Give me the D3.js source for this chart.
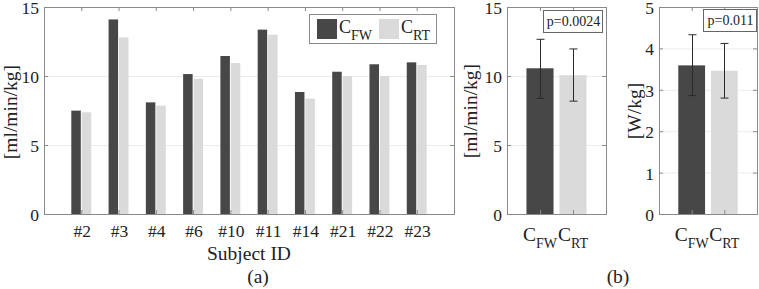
<!DOCTYPE html>
<html>
<head>
<meta charset="utf-8">
<script src="https://cdn.jsdelivr.net/npm/d3@7.9.0/dist/d3.min.js"></script>
<style>
  body { margin: 0; background: #fff; }
  svg { display: block; font-family: "Liberation Serif", "Times New Roman", serif; }
</style>
</head>
<body>
<svg id="chart" width="759" height="289"></svg>
<script>
// per-subject values, C_FW vs C_RT
const subjects = ["#2", "#3", "#4", "#6", "#10", "#11", "#14", "#21", "#22", "#23"];
const fwValues = [7.49, 14.1, 8.09, 10.14, 11.45, 13.36, 8.84, 10.31, 10.85, 10.99];
const rtValues = [7.37, 12.8, 7.85, 9.8, 10.94, 12.99, 8.36, 10.0, 10.0, 10.8];

// group means with error bars
const condLabels = ["FW", "RT"];
const vo2Means = [10.56, 10.06];
const vo2Lower = [8.38, 8.18];
const vo2Upper = [12.66, 11.96];
const powMeans = [3.59, 3.46];
const powLower = [2.86, 2.80];
const powUpper = [4.33, 4.12];

const ticks15 = [0, 5, 10, 15];
const ticks5 = [0, 1, 2, 3, 4, 5];

const darkColor = "#474747";
const lightColor = "#dadada";
const axisColor = "#8a8a8a";
const gridColor = "#ececec";
const tickFont = "17.5px";
const labelFont = "19.5px";

const svg = d3.select("#chart");
const plotTop = 7, plotBottom = 214;

function frame(x, y, yTicks) {
  const [x0, x1] = x.range();
  const g = svg.append("g");
  // grid
  g.selectAll(".grid").data(yTicks.slice(1, -1)).enter().append("line")
    .attr("x1", x0).attr("x2", x1)
    .attr("y1", d => y(d) + 0.5).attr("y2", d => y(d) + 0.5)
    .attr("stroke", gridColor).attr("stroke-width", 1);
  return g;
}

function box(x, y, yTicks, xTicks) {
  const [x0, x1] = x.range();
  const g = svg.append("g");
  g.append("rect")
    .attr("x", x0 + 0.5).attr("y", plotTop + 0.5)
    .attr("width", x1 - x0).attr("height", plotBottom - plotTop)
    .attr("fill", "none").attr("stroke", axisColor);
  // inward ticks on all sides
  yTicks.forEach(t => {
    g.append("line").attr("x1", x0).attr("x2", x0 + 4)
      .attr("y1", y(t) + 0.5).attr("y2", y(t) + 0.5).attr("stroke", axisColor);
    g.append("line").attr("x1", x1 - 4).attr("x2", x1)
      .attr("y1", y(t) + 0.5).attr("y2", y(t) + 0.5).attr("stroke", axisColor);
    g.append("text")
      .attr("x", x0 - 5).attr("y", y(t) + 7)
      .attr("text-anchor", "end").attr("font-size", tickFont).attr("fill", "#222")
      .text(t);
  });
  xTicks.forEach(t => {
    g.append("line").attr("x1", x(t) + 0.5).attr("x2", x(t) + 0.5)
      .attr("y1", plotTop).attr("y2", plotTop + 4).attr("stroke", axisColor);
    g.append("line").attr("x1", x(t) + 0.5).attr("x2", x(t) + 0.5)
      .attr("y1", plotBottom - 4).attr("y2", plotBottom).attr("stroke", axisColor);
  });
  return g;
}

function yLabel(cx, cy, txt) {
  svg.append("text")
    .attr("transform", `translate(${cx},${cy}) rotate(-90)`)
    .attr("text-anchor", "middle").attr("font-size", labelFont).attr("fill", "#222")
    .text(txt);
}

function subLabel(sel, sub) {
  sel.append("tspan").text("C");
  sel.append("tspan").attr("font-size", "14px").attr("dy", 7).text(sub);
}

// ---- (a) per subject ----
const xA = d3.scaleLinear().domain([0, 11]).range([44, 454]);
const yA = d3.scaleLinear().domain([0, 15]).range([plotBottom, plotTop]);
const posA = subjects.map((s, i) => i + 1);
const barW = 0.255, off = 0.14;

frame(xA, yA, ticks15);
svg.append("g").selectAll("rect").data(fwValues).enter().append("rect")
  .attr("x", (d, i) => xA(posA[i] - off - barW / 2))
  .attr("width", xA(barW) - xA(0))
  .attr("y", d => yA(d)).attr("height", d => yA(0) - yA(d))
  .attr("fill", darkColor);
svg.append("g").selectAll("rect").data(rtValues).enter().append("rect")
  .attr("x", (d, i) => xA(posA[i] + off - barW / 2))
  .attr("width", xA(barW) - xA(0))
  .attr("y", d => yA(d)).attr("height", d => yA(0) - yA(d))
  .attr("fill", lightColor);
box(xA, yA, ticks15, posA);
svg.append("g").selectAll("text").data(subjects).enter().append("text")
  .attr("x", (d, i) => xA(posA[i]) + 1).attr("y", 237)
  .attr("text-anchor", "middle").attr("font-size", tickFont).attr("fill", "#222")
  .text(d => d);
svg.append("text").attr("x", xA(5.5)).attr("y", 260)
  .attr("text-anchor", "middle").attr("font-size", labelFont).attr("fill", "#222")
  .text("Subject ID");
yLabel(17, 112, "[ml/min/kg]");

// legend
const leg = svg.append("g");
leg.append("rect").attr("x", 309.5).attr("y", 14.5).attr("width", 127).attr("height", 29)
  .attr("fill", "#fff").attr("stroke", axisColor);
[[darkColor, "FW", 317], [lightColor, "RT", 379]].forEach(([c, s, lx]) => {
  leg.append("rect").attr("x", lx).attr("y", 19).attr("width", 20).attr("height", 20).attr("fill", c);
  const t = leg.append("text").attr("x", lx + 22).attr("y", 33)
    .attr("font-size", "18px").attr("fill", "#222");
  subLabel(t, s);
});

svg.append("text").attr("x", 258).attr("y", 283)
  .attr("text-anchor", "middle").attr("font-size", labelFont).attr("fill", "#222")
  .text("(a)");

// ---- (b) summary panels ----
function summary(range, yMax, yTicks, means, lower, upper, label, labelX, pText, pBox) {
  const x = d3.scaleLinear().domain([0, 3]).range(range);
  const y = d3.scaleLinear().domain([0, yMax]).range([plotBottom, plotTop]);
  const pos = [1, 2];
  frame(x, y, yTicks);
  svg.append("g").selectAll("rect").data(means).enter().append("rect")
    .attr("x", (d, i) => x(pos[i] - 0.41))
    .attr("width", x(0.82) - x(0))
    .attr("y", d => y(d)).attr("height", d => y(0) - y(d))
    .attr("fill", (d, i) => i === 0 ? darkColor : lightColor);
  const eb = svg.append("g").attr("stroke", "#2a2a2a").attr("stroke-width", 1);
  pos.forEach((p, i) => {
    const cx = Math.round(x(p)) + 0.5;
    eb.append("line").attr("x1", cx).attr("x2", cx).attr("y1", y(upper[i])).attr("y2", y(lower[i]));
    eb.append("line").attr("x1", cx - 4).attr("x2", cx + 4).attr("y1", y(upper[i])).attr("y2", y(upper[i]));
    eb.append("line").attr("x1", cx - 4).attr("x2", cx + 4).attr("y1", y(lower[i])).attr("y2", y(lower[i]));
  });
  box(x, y, yTicks, pos);
  pos.forEach((p, i) => {
    const t = svg.append("text").attr("x", x(p)).attr("y", 241)
      .attr("text-anchor", "middle").attr("font-size", labelFont).attr("fill", "#222");
    subLabel(t, condLabels[i]);
  });
  yLabel(labelX, 111, label);
  svg.append("rect").attr("x", pBox[0] + 0.5).attr("y", pBox[1] + 0.5)
    .attr("width", pBox[2]).attr("height", pBox[3])
    .attr("fill", "#fff").attr("stroke", "#666");
  svg.append("text").attr("x", pBox[0] + pBox[2] / 2 + 1).attr("y", pBox[1] + 16)
    .attr("text-anchor", "middle").attr("font-size", "14px").attr("fill", "#222")
    .text(pText);
}

summary([507, 606], 15, ticks15, vo2Means, vo2Lower, vo2Upper, "[ml/min/kg]", 477, "p=0.0024", [543, 10, 59, 22]);
summary([659, 757], 5, ticks5, powMeans, powLower, powUpper, "[W/kg]", 641, "p=0.011", [703, 9, 53, 22]);

svg.append("text").attr("x", 618).attr("y", 283)
  .attr("text-anchor", "middle").attr("font-size", labelFont).attr("fill", "#222")
  .text("(b)");
</script>
</body>
</html>
